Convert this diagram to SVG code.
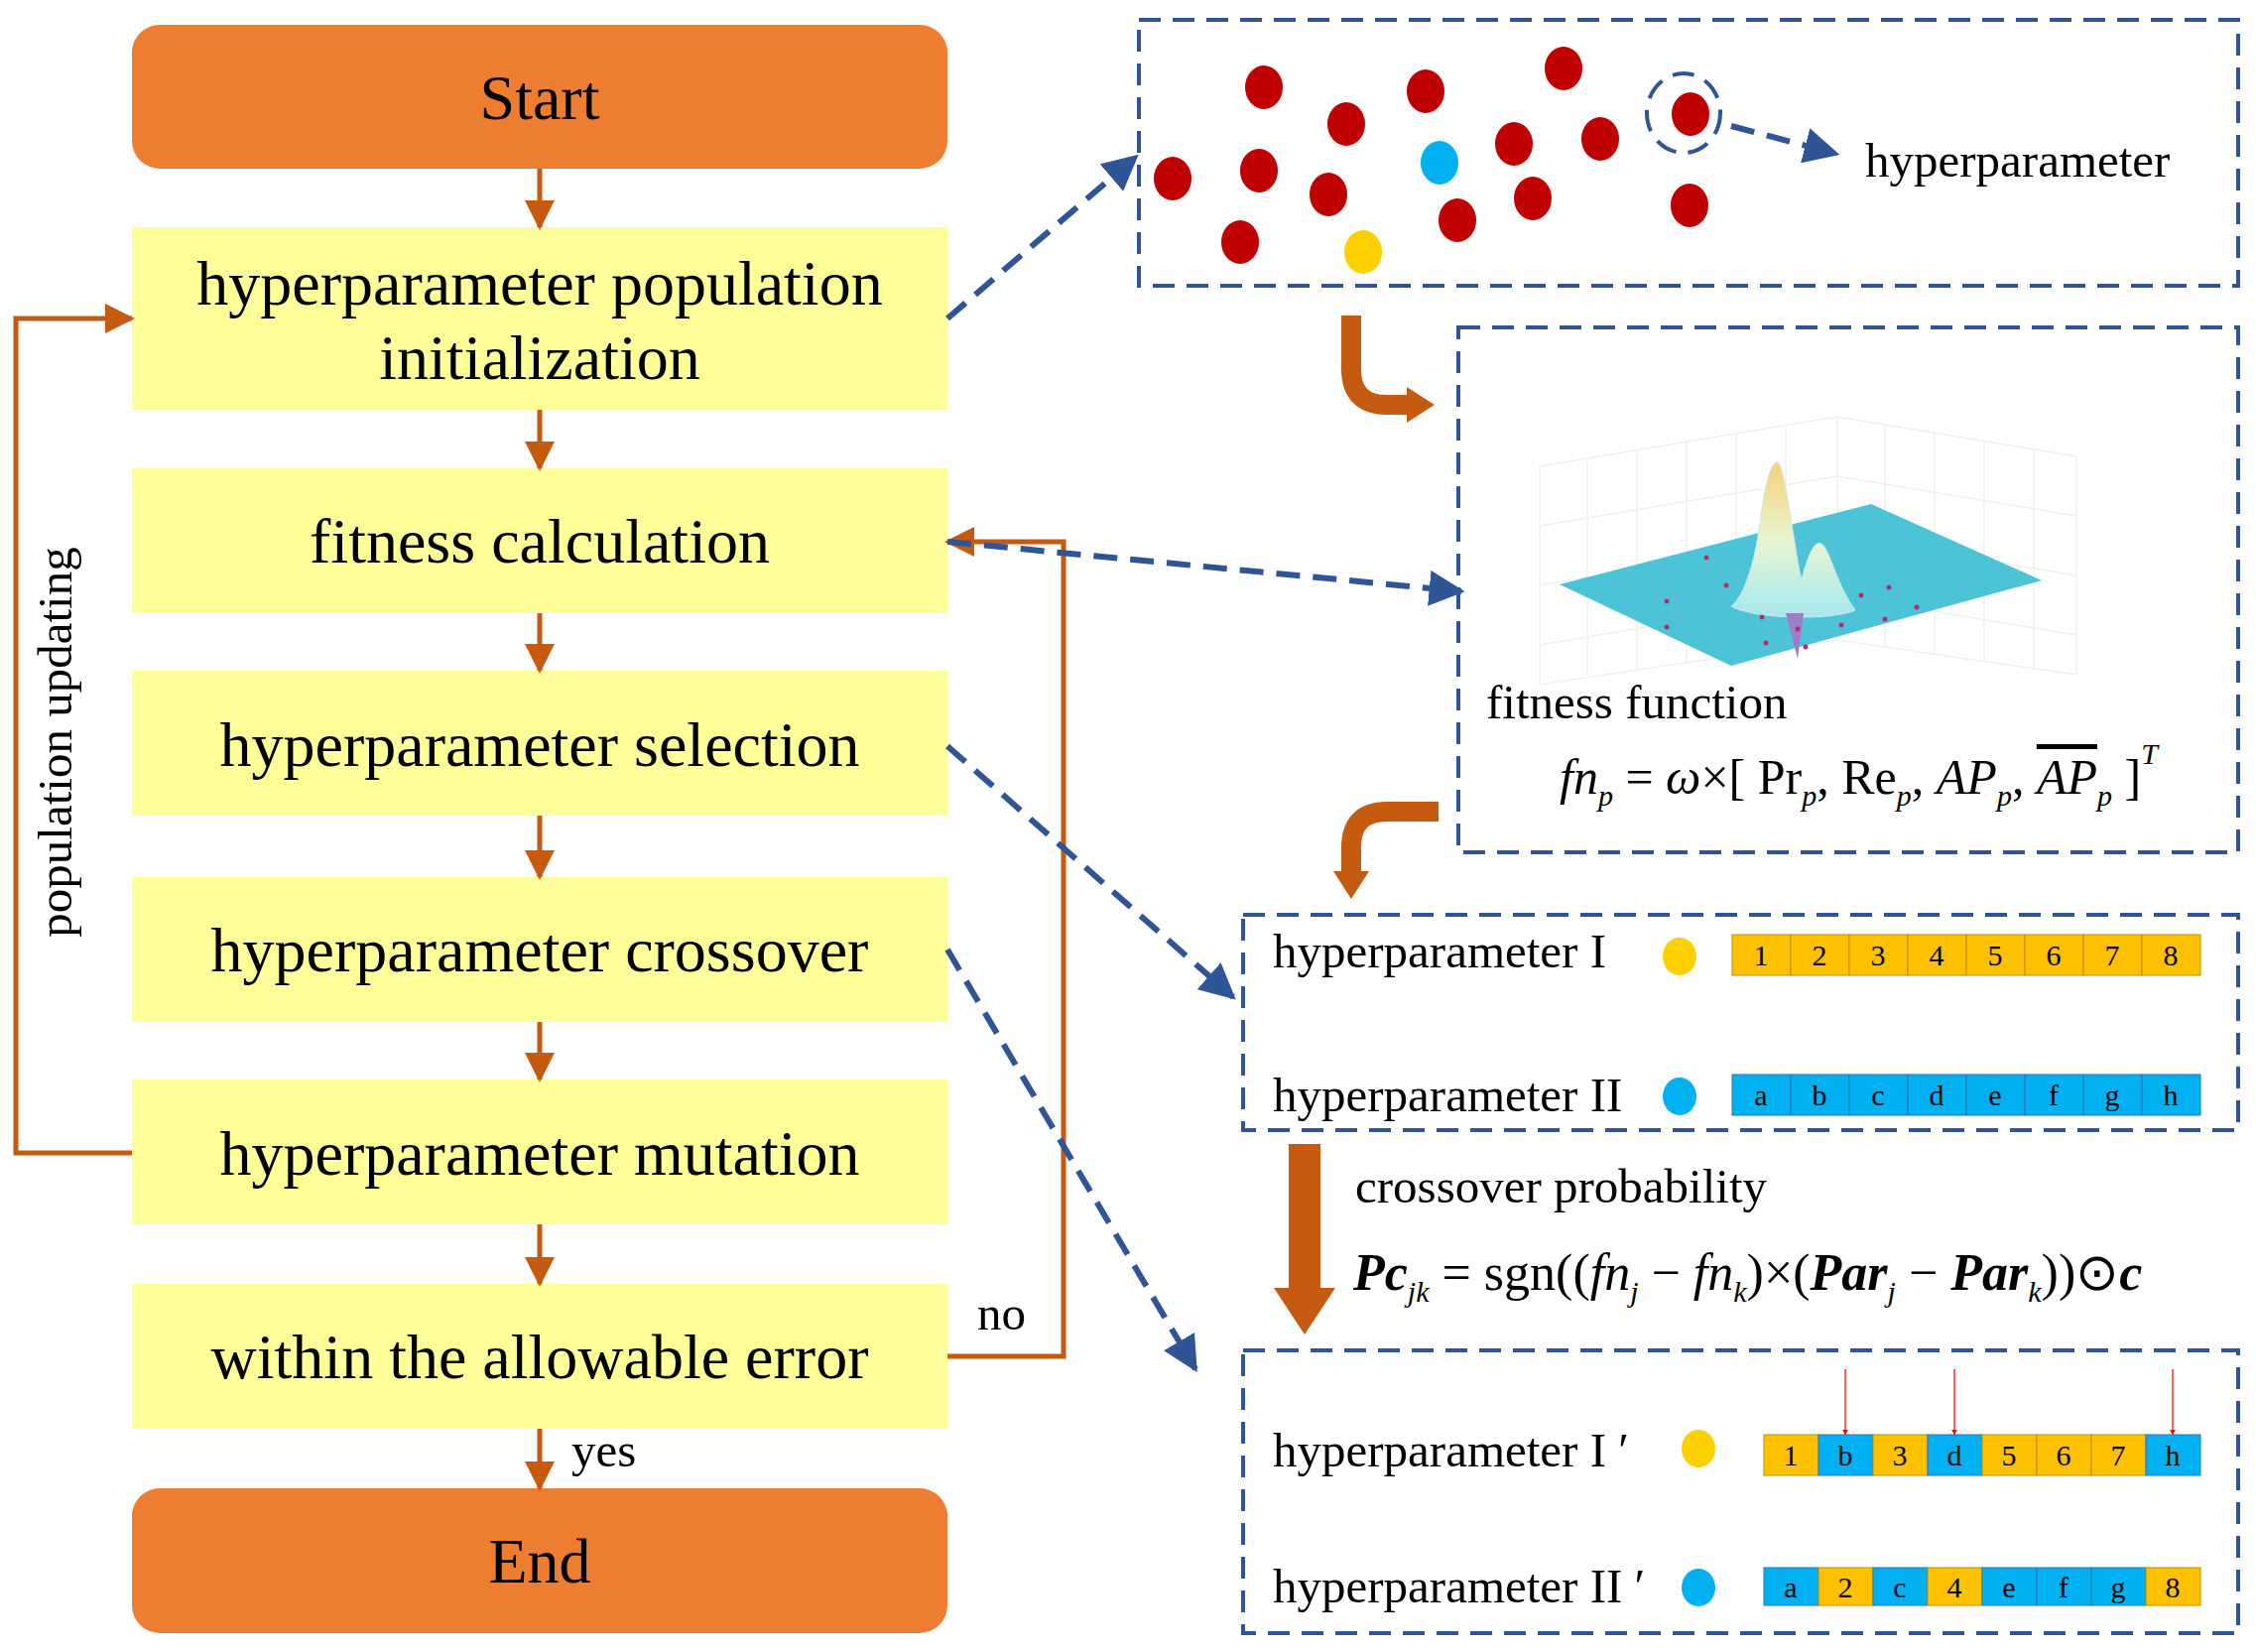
<svg xmlns="http://www.w3.org/2000/svg" width="2274" height="1665" viewBox="0 0 2274 1665">
<style>
text{font-family:"Liberation Serif","Times New Roman",serif;fill:#000}
.t{font-size:64px;text-anchor:middle}
.s{font-size:49px}
.c{font-size:30px;text-anchor:middle}
.box{fill:#FFFF99}
.term{fill:#ED7D31}
.flow{stroke:#C55A11;stroke-width:5;fill:none}
.dash{stroke:#2F5597;stroke-width:6;fill:none;stroke-dasharray:24 13}
.dbox{stroke:#2F5597;stroke-width:4;fill:none;stroke-dasharray:22 12}
.thick{stroke:#C55A11;fill:none}
.y{fill:#FFC000;stroke:#BF9000;stroke-width:1}
.b{fill:#00B0F0;stroke:#2E75B6;stroke-width:1}
.r{fill:#C00000}
.i{font-style:italic}
</style>
<defs>
<marker id="oh" viewBox="0 0 10 10" refX="9" refY="5" markerWidth="30" markerHeight="30" orient="auto" markerUnits="userSpaceOnUse"><path d="M0,0L10,5L0,10z" fill="#C55A11"/></marker>
<marker id="ba" viewBox="0 0 10 10" refX="9" refY="5" markerWidth="36" markerHeight="36" orient="auto" markerUnits="userSpaceOnUse"><path d="M0,0L10,5L0,10z" fill="#2F5597"/></marker>
<marker id="ra" viewBox="0 0 10 10" refX="9" refY="5" markerWidth="6" markerHeight="6" orient="auto" markerUnits="userSpaceOnUse"><path d="M0,0L10,5L0,10z" fill="#FF0000"/></marker>
<linearGradient id="pk" x1="0" y1="0" x2="0" y2="1"><stop offset="0" stop-color="#F4D27A"/><stop offset="0.5" stop-color="#E8F5D0"/><stop offset="1" stop-color="#A8E8F0"/></linearGradient>
</defs>

<g id="start"><rect class="term" x="133" y="25" width="822" height="145" rx="28"/><text class="t" x="544" y="120">Start</text></g>
<g id="init"><rect class="box" x="133" y="229" width="822" height="184"/><text class="t" x="544" y="307">hyperparameter population</text><text class="t" x="544" y="382">initialization</text></g>
<g id="fitness"><rect class="box" x="133" y="472" width="822" height="146"/><text class="t" x="544" y="567">fitness calculation</text></g>
<g id="selection"><rect class="box" x="133" y="676" width="822" height="146"/><text class="t" x="544" y="772">hyperparameter selection</text></g>
<g id="crossover"><rect class="box" x="133" y="884" width="822" height="146"/><text class="t" x="544" y="979">hyperparameter crossover</text></g>
<g id="mutation"><rect class="box" x="133" y="1088" width="822" height="146"/><text class="t" x="544" y="1184">hyperparameter mutation</text></g>
<g id="error"><rect class="box" x="133" y="1294" width="822" height="146"/><text class="t" x="544" y="1389">within the allowable error</text></g>
<g id="end"><rect class="term" x="133" y="1500" width="822" height="146" rx="28"/><text class="t" x="544" y="1595">End</text></g>

<g id="connectors">
<line class="flow" x1="544" y1="170" x2="544" y2="229" marker-end="url(#oh)"/>
<line class="flow" x1="544" y1="413" x2="544" y2="472" marker-end="url(#oh)"/>
<line class="flow" x1="544" y1="618" x2="544" y2="676" marker-end="url(#oh)"/>
<line class="flow" x1="544" y1="822" x2="544" y2="884" marker-end="url(#oh)"/>
<line class="flow" x1="544" y1="1030" x2="544" y2="1088" marker-end="url(#oh)"/>
<line class="flow" x1="544" y1="1234" x2="544" y2="1294" marker-end="url(#oh)"/>
<line class="flow" x1="544" y1="1440" x2="544" y2="1500" marker-end="url(#oh)"/>
<polyline class="flow" points="133,1162 16,1162 16,321 133,321" marker-end="url(#oh)"/>
<polyline class="flow" points="955,1367 1072,1367 1072,546 955,546" marker-end="url(#oh)"/>
<line class="dash" x1="955" y1="321" x2="1145" y2="158" marker-end="url(#ba)"/>
<line class="dash" x1="955" y1="546" x2="1473" y2="596" marker-end="url(#ba)"/>
<line class="dash" x1="955" y1="752" x2="1243" y2="1005" marker-end="url(#ba)"/>
<line class="dash" x1="955" y1="957" x2="1205" y2="1380" marker-end="url(#ba)"/>
<line class="dash" x1="1745" y1="127" x2="1851" y2="155" marker-end="url(#ba)"/>
<path class="thick" stroke-width="20" d="M1362,318 V372 Q1362,408 1398,408 H1420"/>
<path d="M1418,390 L1446,408 L1418,426z" fill="#C55A11"/>
<path class="thick" stroke-width="20" d="M1450,818 H1398 Q1362,818 1362,854 V880"/>
<path d="M1344,878 L1362,906 L1380,878z" fill="#C55A11"/>
<line class="thick" stroke-width="32" x1="1315" y1="1153" x2="1315" y2="1300"/>
<path d="M1284,1298 L1315,1345 L1346,1298z" fill="#C55A11"/>
</g>
<text class="s" transform="translate(72,748) rotate(-90)" text-anchor="middle">population updating</text>
<text class="s" x="985" y="1340">no</text>
<text class="s" x="576" y="1478">yes</text>

<g id="population">
<rect class="dbox" x="1148" y="20" width="1108" height="268"/>
<g class="r">
<ellipse cx="1274" cy="88" rx="19" ry="22"/><ellipse cx="1357" cy="125" rx="19" ry="22"/><ellipse cx="1437" cy="92" rx="19" ry="22"/><ellipse cx="1576" cy="69" rx="19" ry="22"/>
<ellipse cx="1182" cy="180" rx="19" ry="22"/><ellipse cx="1269" cy="172" rx="19" ry="22"/><ellipse cx="1339" cy="196" rx="19" ry="22"/><ellipse cx="1526" cy="145" rx="19" ry="22"/>
<ellipse cx="1613" cy="140" rx="19" ry="22"/><ellipse cx="1545" cy="200" rx="19" ry="22"/><ellipse cx="1469" cy="222" rx="19" ry="22"/><ellipse cx="1250" cy="244" rx="19" ry="22"/>
<ellipse cx="1704" cy="115" rx="19" ry="22"/><ellipse cx="1703" cy="207" rx="19" ry="22"/>
</g>
<ellipse cx="1451" cy="164" rx="19" ry="22" fill="#00B0F0"/>
<ellipse cx="1374" cy="254" rx="19" ry="22" fill="#FFD000"/>
<ellipse cx="1697" cy="114" rx="37" ry="40" class="dbox" stroke-dasharray="10 7"/>
<text class="s" x="1880" y="178" font-size="51">hyperparameter</text>
</g>

<g id="fitness-function">
<rect class="dbox" x="1470" y="330" width="786" height="529"/>
<g stroke="#F0F0F0" stroke-width="1.5" fill="none">
<path d="M1552,470 L1852,420 L2093,460 L2093,680 L1852,645 L1552,690z"/>
<path d="M1852,420 V645 M1600,462 V683 M1650,454 V675 M1700,445 V668 M1750,437 V660 M1800,428 V653 M1900,428 V652 M1950,436 V659 M2000,444 V666 M2050,453 V674 M1552,530 L1852,480 L2093,520 M1552,590 L1852,540 L2093,580 M1552,650 L1852,600 L2093,640"/>
</g>
<path d="M1572,589 L1886,508 L2058,585 L1745,671z" fill="#4CC3D6"/>
<path d="M1745,611 C1760,600 1770,560 1775,520 C1780,480 1790,450 1796,475 C1803,500 1810,560 1816,585 C1822,560 1830,540 1838,550 C1846,560 1852,590 1870,615 C1850,625 1770,625 1745,611z" fill="url(#pk)" stroke="#CDE8E8" stroke-width="1"/>
<path d="M1800,618 L1812,664 L1818,618z" fill="#9B7FC8"/>
<g fill="#B0306A"><circle cx="1680" cy="606" r="2.5"/><circle cx="1720" cy="562" r="2.5"/><circle cx="1740" cy="590" r="2.5"/><circle cx="1776" cy="622" r="2.5"/><circle cx="1812" cy="634" r="2.5"/><circle cx="1856" cy="630" r="2.5"/><circle cx="1900" cy="624" r="2.5"/><circle cx="1932" cy="612" r="2.5"/><circle cx="1904" cy="592" r="2.5"/><circle cx="1876" cy="600" r="2.5"/><circle cx="1780" cy="648" r="2.5"/><circle cx="1820" cy="652" r="2.5"/><circle cx="1680" cy="632" r="2.5"/></g>
<text class="s" x="1498" y="724">fitness function</text>
<text font-size="50" x="1572" y="800"><tspan class="i">fn</tspan><tspan class="i" font-size="30" dy="12">p</tspan><tspan dy="-12"> = </tspan><tspan class="i">ω</tspan><tspan>×[ Pr</tspan><tspan class="i" font-size="30" dy="12">p</tspan><tspan dy="-12">, Re</tspan><tspan class="i" font-size="30" dy="12">p</tspan><tspan dy="-12">, </tspan><tspan class="i">AP</tspan><tspan class="i" font-size="30" dy="12">p</tspan><tspan dy="-12">, </tspan><tspan class="i" text-decoration="overline">AP</tspan><tspan class="i" font-size="30" dy="12">p</tspan><tspan dy="-12"> ]</tspan><tspan class="i" font-size="30" dy="-30">T</tspan></text>
</g>

<g id="parents">
<rect class="dbox" x="1253" y="922" width="1003" height="217"/>
<text class="s" x="1283" y="975">hyperparameter I</text>
<ellipse cx="1693" cy="964" rx="17" ry="19" fill="#FFD000"/>
<g class="y"><rect x="1746" y="942" width="59" height="41"/><rect x="1805" y="942" width="59" height="41"/><rect x="1864" y="942" width="59" height="41"/><rect x="1923" y="942" width="59" height="41"/><rect x="1982" y="942" width="59" height="41"/><rect x="2041" y="942" width="59" height="41"/><rect x="2100" y="942" width="59" height="41"/><rect x="2159" y="942" width="59" height="41"/></g>
<g class="c"><text x="1775" y="973">1</text><text x="1834" y="973">2</text><text x="1893" y="973">3</text><text x="1952" y="973">4</text><text x="2011" y="973">5</text><text x="2070" y="973">6</text><text x="2129" y="973">7</text><text x="2188" y="973">8</text></g>
<text class="s" x="1283" y="1120">hyperparameter II</text>
<ellipse cx="1693" cy="1105" rx="17" ry="19" fill="#00B0F0"/>
<g class="b"><rect x="1746" y="1083" width="59" height="41"/><rect x="1805" y="1083" width="59" height="41"/><rect x="1864" y="1083" width="59" height="41"/><rect x="1923" y="1083" width="59" height="41"/><rect x="1982" y="1083" width="59" height="41"/><rect x="2041" y="1083" width="59" height="41"/><rect x="2100" y="1083" width="59" height="41"/><rect x="2159" y="1083" width="59" height="41"/></g>
<g class="c"><text x="1775" y="1114">a</text><text x="1834" y="1114">b</text><text x="1893" y="1114">c</text><text x="1952" y="1114">d</text><text x="2011" y="1114">e</text><text x="2070" y="1114">f</text><text x="2129" y="1114">g</text><text x="2188" y="1114">h</text></g>
</g>

<g id="crossover-probability">
<text class="s" x="1366" y="1212">crossover probability</text>
<text font-size="52" x="1364" y="1300"><tspan class="i" font-weight="bold">Pc</tspan><tspan class="i" font-size="30" dy="12">jk</tspan><tspan dy="-12"> = sgn((</tspan><tspan class="i">fn</tspan><tspan class="i" font-size="30" dy="12">j</tspan><tspan dy="-12"> − </tspan><tspan class="i">fn</tspan><tspan class="i" font-size="30" dy="12">k</tspan><tspan dy="-12">)×(</tspan><tspan class="i" font-weight="bold">Par</tspan><tspan class="i" font-size="30" dy="12">j</tspan><tspan dy="-12"> − </tspan><tspan class="i" font-weight="bold">Par</tspan><tspan class="i" font-size="30" dy="12">k</tspan><tspan dy="-12">))⊙</tspan><tspan class="i" font-weight="bold">c</tspan></text>
</g>

<g id="offspring">
<rect class="dbox" x="1253" y="1361" width="1003" height="285"/>
<text class="s" x="1283" y="1478">hyperparameter I ′</text>
<ellipse cx="1712" cy="1460" rx="17" ry="19" fill="#FFD000"/>
<rect class="y" x="1778" y="1446" width="55" height="41"/><rect class="b" x="1833" y="1446" width="55" height="41"/><rect class="y" x="1888" y="1446" width="55" height="41"/><rect class="b" x="1943" y="1446" width="55" height="41"/><rect class="y" x="1998" y="1446" width="55" height="41"/><rect class="y" x="2053" y="1446" width="55" height="41"/><rect class="y" x="2108" y="1446" width="55" height="41"/><rect class="b" x="2163" y="1446" width="55" height="41"/>
<g class="c"><text x="1805" y="1477">1</text><text x="1860" y="1477">b</text><text x="1915" y="1477">3</text><text x="1970" y="1477">d</text><text x="2025" y="1477">5</text><text x="2080" y="1477">6</text><text x="2135" y="1477">7</text><text x="2190" y="1477">h</text></g>
<g stroke="#FF3030" stroke-width="1.5"><line x1="1860" y1="1380" x2="1860" y2="1446" marker-end="url(#ra)"/><line x1="1970" y1="1380" x2="1970" y2="1446" marker-end="url(#ra)"/><line x1="2190" y1="1380" x2="2190" y2="1446" marker-end="url(#ra)"/></g>
<text class="s" x="1283" y="1615">hyperparameter II ′</text>
<ellipse cx="1712" cy="1600" rx="17" ry="19" fill="#00B0F0"/>
<rect class="b" x="1778" y="1580" width="55" height="38"/><rect class="y" x="1833" y="1580" width="55" height="38"/><rect class="b" x="1888" y="1580" width="55" height="38"/><rect class="y" x="1943" y="1580" width="55" height="38"/><rect class="b" x="1998" y="1580" width="55" height="38"/><rect class="b" x="2053" y="1580" width="55" height="38"/><rect class="b" x="2108" y="1580" width="55" height="38"/><rect class="y" x="2163" y="1580" width="55" height="38"/>
<g class="c"><text x="1805" y="1610">a</text><text x="1860" y="1610">2</text><text x="1915" y="1610">c</text><text x="1970" y="1610">4</text><text x="2025" y="1610">e</text><text x="2080" y="1610">f</text><text x="2135" y="1610">g</text><text x="2190" y="1610">8</text></g>
</g>
</svg>
